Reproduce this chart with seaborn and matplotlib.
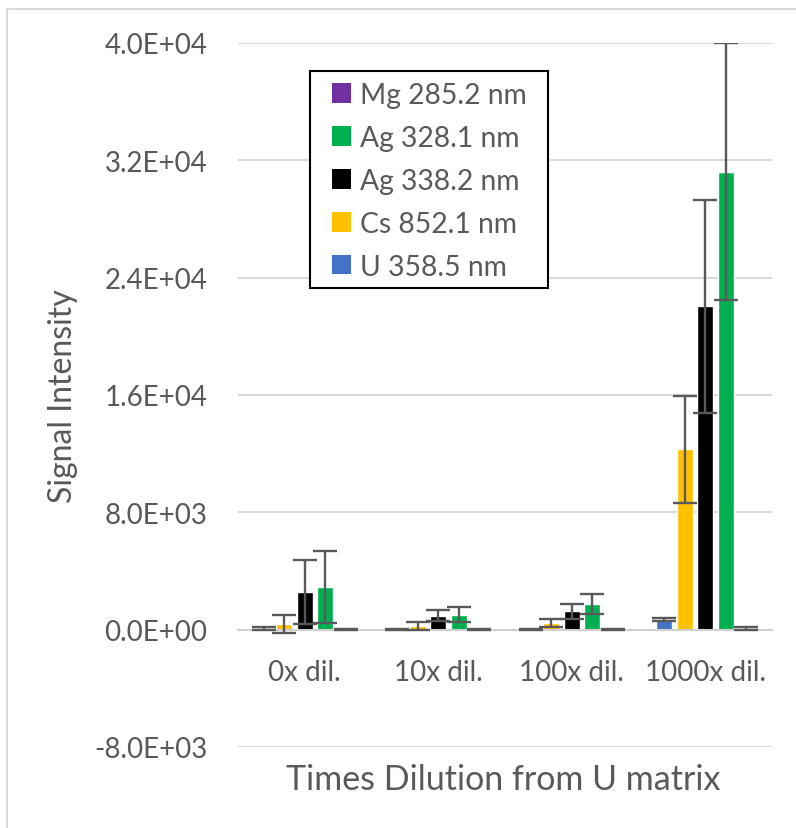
import matplotlib
matplotlib.use('Agg')
import matplotlib.pyplot as plt
import seaborn as sns
import pandas as pd
from matplotlib.ticker import FuncFormatter, MultipleLocator
from matplotlib.patches import Rectangle, Patch
from matplotlib.lines import Line2D

categories = ["0x dil.", "10x dil.", "100x dil.", "1000x dil."]
series = ["U 358.5 nm", "Cs 852.1 nm", "Ag 338.2 nm", "Ag 328.1 nm", "Mg 285.2 nm"]
colors = ["#4472C4", "#FFC000", "#000000", "#00B050", "#7030A0"]

u_vals = [80, 25, 30, 690]
u_err = [90, 30, 30, 100]
cs_vals = [400, 250, 480, 12300]
cs_err = [620, 270, 270, 3650]
ag338_vals = [2570, 950, 1250, 22050]
ag338_err = [2150, 380, 510, 7250]
ag328_vals = [2910, 1030, 1745, 31230]
ag328_err = [2470, 510, 655, 8750]
mg_vals = [20, 20, 20, 80]
mg_err = [40, 30, 30, 100]

vals_list = [u_vals, cs_vals, ag338_vals, ag328_vals, mg_vals]
errs_list = [u_err, cs_err, ag338_err, ag328_err, mg_err]

rows = []
for s, vals in zip(series, vals_list):
    for c, v in zip(categories, vals):
        rows.append({"category": c, "series": s, "value": v})
df = pd.DataFrame(rows)

sns.set_style("white")
plt.rcParams['font.family'] = ['Lato', 'DejaVu Sans']

W, H = 796, 829
fig = plt.figure(figsize=(W / 100, H / 100), dpi=100)
ax = fig.add_axes([238 / W, 1 - 748 / H, 534 / W, 704 / H])

sns.barplot(data=df, x="category", y="value", hue="series", hue_order=series,
            order=categories, palette=colors, width=0.768, gap=0.2,
            errorbar=None, saturation=1, legend=False, ax=ax, zorder=2)

for cont, vals, errs in zip(ax.containers, vals_list, errs_list):
    xs = [p.get_x() + p.get_width() / 2 for p in cont]
    ax.errorbar(xs, vals, yerr=errs, fmt='none', ecolor='#595959',
                elinewidth=1.7, capsize=8.6, capthick=1.7, zorder=3)

ax.set_ylim(-8000, 40000)
ax.set_xlim(-0.5, 3.5)
ax.yaxis.set_major_locator(MultipleLocator(8000))
ax.yaxis.set_major_formatter(FuncFormatter(lambda v, p: f"{v:.1E}"))
ax.yaxis.grid(True, color='#d9d9d9', lw=1.5)
ax.set_axisbelow(True)
for sp in ['left', 'right', 'top']:
    ax.spines[sp].set_visible(False)
ax.spines['bottom'].set_position(('data', 0))
ax.spines['bottom'].set_color('#d0d0d0')
ax.spines['bottom'].set_linewidth(1.5)
ax.tick_params(axis='y', length=0, pad=22, labelsize=20, labelcolor='#595959')
ax.tick_params(axis='x', length=0, pad=21, labelsize=20, labelcolor='#595959')
ax.set_xlabel("")
ax.set_ylabel("")

# legend
handles = [Patch(facecolor=c, edgecolor='none') for c in colors][::-1]
labels = series[::-1]
leg = ax.legend(handles, labels, loc='upper left', bbox_to_anchor=(332 / W, 1 - 83 / H),
                bbox_transform=fig.transFigure, frameon=False, fontsize=20.3,
                handlelength=0.68, handleheight=0.68, handletextpad=0.3,
                labelspacing=0.6, borderpad=0, borderaxespad=0)
for t in leg.get_texts():
    t.set_color('#595959')
leg.set_zorder(6)
box = Rectangle((310 / W, 1 - 289 / H), (548 - 310) / W, (289 - 72) / H,
                transform=fig.transFigure, facecolor='white', edgecolor='black',
                lw=1.5, zorder=5, clip_on=False)
ax.add_artist(box)

fig.text(503 / W, 1 - 790 / H, "Times Dilution from U matrix", ha='center', va='baseline',
         fontsize=24.5, color='#595959')
fig.text(63 / W, 1 - 396 / H, "Signal Intensity", ha='center', va='center', rotation=90,
         fontsize=23, color='#595959')

fig.add_artist(Line2D([7 / W, 7 / W], [0, 1 - 10 / H], transform=fig.transFigure,
                      color='#d9d9d9', lw=1.5))
fig.add_artist(Line2D([7 / W, 1], [1 - 10 / H, 1 - 10 / H], transform=fig.transFigure,
                      color='#d9d9d9', lw=1.5))

fig.savefig("out.png", dpi=100)
